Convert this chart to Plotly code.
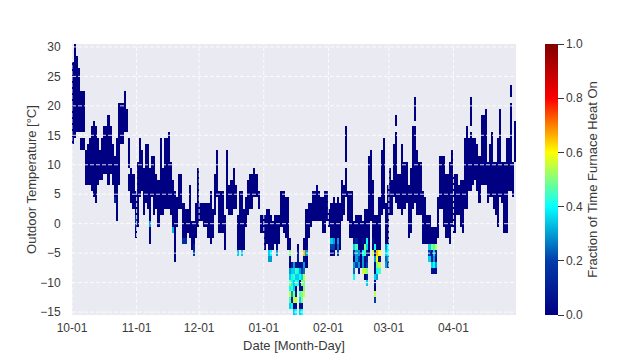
import numpy as np
import plotly.graph_objects as go

tick_days = [0, 31, 61, 92, 123, 152, 183]
tick_labels = ["10-01", "11-01", "12-01", "01-01", "02-01", "03-01", "04-01"]
temp_ticks = [-15, -10, -5, 0, 5, 10, 15, 20, 25, 30]
temps = list(range(-15, 31))

day_high = [
    27, 30, 28, 26, 22, 22, 12, 13, 14, 16, 17, 16, 14, 12, 14, 16, 16, 18, 16, 13,
    11, 14, 20, 20, 20, 22, 19, 14, 9, 8, 5, 10, 14, 12, 9, 13, 13, 9, 11, 11,
    8, 7, 14, 9, 14, 14, 15, 10, 7, 5, 4, 8, 8, 3, 2, 2, 6, 0, 0, 3,
    9, 3, 3, 3, 3, 3, 5, 2, 8, 12, 5, 5, 5, 1, 12, 6, 7, 9, 6, 1,
    5, 5, 2, 4, 7, 8, 8, 9, 8, 5, 1, 1, 1, 2, 2, 1, 0, 1, 1, 1,
    5, 5, 4, 4, -3, -7, -7, -7, -4, -7, -7, -3, 2, 3, 3, 5, 5, 6, 5, 4,
    4, 5, 5, 2, 3, 4, 3, 4, 3, 7, 6, 16, 5, 5, 5, 0, 1, 1, 1, 0,
    2, 2, 11, 12, 7, 1, 1, 4, 12, 14, 3, 6, 9, 7, 13, 18, 8, 8, 13, 10,
    10, 6, 9, 16, 21, 12, 10, 10, 5, 4, 1, 1, -1, -1, -1, 4, 11, 11, 11, 8,
    8, 10, 12, 8, 8, 6, 7, 7, 14, 16, 14, 21, 14, 14, 13, 11, 18, 18, 19, 10,
    13, 15, 10, 10, 14, 19, 10, 10, 14, 14, 23, 10, 17,
]
day_low = [
    14, 15, 16, 16, 13, 13, 7, 7, 7, 6, 5, 4, 7, 8, 8, 9, 9, 7, 9, 7,
    4, 1, 7, 14, 14, 16, 16, 6, 4, 3, -2, 0, 5, 6, 2, 4, 3, -3, 5, 2,
    3, 0, 2, 2, 3, 3, 3, 2, -1, -6, 0, 3, 3, -3, -3, -1, -2, -4, -5, -2,
    0, 1, 1, 0, 0, -2, -3, -2, 2, 5, -1, -1, -1, -4, 3, 2, 2, 3, 3, -5,
    -4, -5, -4, 0, 2, 3, 3, 5, 5, 3, -1, -1, -4, -3, -6, -6, -4, -3, -5, -3,
    0, -1, -2, -4, -14, -14, -15, -15, -10, -15, -15, -12, -7, -2, 0, 1, 1, 1, 1, 1,
    -1, -1, 1, 0, -5, -5, -4, -5, -4, 1, 2, 5, 1, -2, -2, -9, -7, -7, -7, -8,
    -9, -10, -5, 1, -5, -13, -9, -8, 2, 3, -7, -7, 2, 2, 5, 4, 3, 3, 2, 3,
    4, -2, -1, 3, 4, 2, 2, 2, -3, -3, -3, -6, -8, -8, -8, -2, 3, 3, 0, -2,
    -2, -3, 0, -1, 2, 2, 0, -1, 3, 3, 6, 6, 7, 8, 6, 4, 7, 7, 7, 4,
    5, 5, 3, 2, 0, 5, 4, -1, -1, 6, 6, 5, 11,
]

gap_days = [4, 5, 27, 131, 155, 164, 191, 210]
gap_temps = [15, 15, 9, 10, 16, 17, 16, 21]

hot_days = (
    [20, 30, 30, 37, 48, 53, 54, 58, 58, 79, 81, 94, 94, 95, 95, 98]
    + [104] * 9 + [105] * 8 + [106] * 9 + [107] * 9 + [108] * 7 + [109] * 9 + [110] * 9 + [111] * 8
    + [112, 124, 124, 124, 125, 125, 125, 127, 127, 127]
    + [135] * 7 + [136] * 5 + [137] * 4 + [139] * 5 + [140] * 5 + [141] * 8
    + [144] * 2 + [145] * 10 + [146] * 5 + [147] * 4 + [150] * 4 + [151] * 4
    + [171] * 3 + [172] * 5 + [173] * 5 + [174] * 5
)
hot_temps = (
    [4, 1, 0, 0, -1, -3, -3, -4, -5, -5, -5, -5, -6, -5, -6, -5]
    + [-5, -6, -8, -9, -10, -11, -12, -13, -14]
    + [-7, -8, -9, -10, -11, -12, -13, -14]
    + [-7, -8, -9, -10, -11, -12, -13, -14, -15]
    + [-7, -8, -9, -10, -12, -13, -14, -15, -11]
    + [-5, -6, -7, -8, -9, -10, -4]
    + [-7, -8, -9, -10, -11, -12, -13, -14, -15]
    + [-7, -8, -9, -10, -11, -12, -13, -14, -15]
    + [-5, -6, -7, -8, -9, -10, -11, -12]
    + [-5, -3, -4, -5, -3, -4, -5, -3, -4, -5]
    + [-3, -4, -5, -6, -7, -8, -9]
    + [-3, -4, -5, -6, -7]
    + [-5, -6, -7, -8]
    + [-3, -5, -6, -7, -8]
    + [-4, -5, -6, -7, -8]
    + [-3, -4, -5, -6, -7, -8, -9, -10]
    + [-3, -5]
    + [-4, -5, -6, -7, -8, -9, -10, -11, -12, -13]
    + [-5, -6, -7, -8, -9]
    + [-5, -6, -7, -8]
    + [-4, -5, -6, -7]
    + [-4, -5, -6, -7]
    + [-4, -5, -6]
    + [-4, -5, -6, -7, -8]
    + [-4, -5, -6, -7, -8]
    + [-4, -5, -6, -7, -8]
)
hot_fractions = (
    [0.15, 0.2, 0.15, 0.3, 0.32, 0.15, 0.15, 0.1, 0.2, 0.35, 0.35, 0.35, 0.3, 0.4, 0.3, 0.3]
    + [0.5, 0.05, 0.3, 0.35, 0.5, 0.4, 0.55, 0.45, 0.35]
    + [0.1, 0.35, 0.4, 0.4, 0.45, 0.3, 0.1, 0.4]
    + [0.3, 0.35, 0.45, 0.35, 0.35, 0.5, 0.55, 0.0, 0.35]
    + [0.05, 0.45, 0.35, 0.45, 0.1, 0.55, 0.05, 0.4, 0.05]
    + [0.1, 0.1, 0.05, 0.4, 0.35, 0.4, 0.0]
    + [0.05, 0.3, 0.4, 0.05, 0.05, 0.45, 0.35, 0.05, 0.35]
    + [0.05, 0.2, 0.35, 0.5, 0.05, 0.5, 0.5, 0.05, 0.4]
    + [0.65, 0.05, 0.3, 0.25, 0.55, 0.5, 0.5, 0.55]
    + [0.3, 0.35, 0.2, 0.0, 0.3, 0.2, 0.05, 0.3, 0.25, 0.2]
    + [0.05, 0.35, 0.15, 0.0, 0.3, 0.25, 0.4]
    + [0.1, 0.45, 0.3, 0.3, 0.2]
    + [0.3, 0.2, 0.3, 0.05]
    + [0.05, 0.4, 0.3, 0.3, 0.55]
    + [0.5, 0.45, 0.05, 0.05, 0.55]
    + [0.4, 0.35, 0.05, 0.1, 0.2, 0.5, 0.1, 0.35]
    + [0.05, 0.55]
    + [0.4, 0.05, 0.3, 0.05, 0.05, 0.35, 0.05, 0.0, 0.55, 0.2]
    + [0.65, 0.6, 0.5, 0.4, 0.3]
    + [0.6, 0.05, 0.55, 0.45]
    + [0.3, 0.35, 0.25, 0.3]
    + [0.4, 0.4, 0.3, 0.2]
    + [0.35, 0.2, 0.35]
    + [0.5, 0.05, 0.1, 0.35, 0.05]
    + [0.45, 0.35, 0.3, 0.4, 0.05]
    + [0.55, 0.1, 0.05, 0.3, 0.05]
)

days = np.arange(len(day_high))
z = np.full((len(temps), len(days)), np.nan)
for d in days:
    for t in range(day_low[d], day_high[d] + 1):
        z[t + 15, d] = 0.0
for d, t in zip(gap_days, gap_temps):
    z[t + 15, d] = np.nan
for d, t, f in zip(hot_days, hot_temps, hot_fractions):
    z[t + 15, d] = f

INK = "#3a3a3a"
FONT = "Liberation Sans, Arial, sans-serif"

fig = go.Figure(go.Heatmap(
    x=days + 0.5, y=temps, z=z, colorscale="Jet", zmin=0, zmax=1, hoverongaps=False,
    colorbar=dict(
        title=dict(text="Fraction of Time Furnace Heat On", side="right", font=dict(size=13, color=INK)),
        x=1.065, xanchor="left", xref="paper", y=0, yanchor="bottom", yref="paper",
        len=1, lenmode="fraction", thickness=13, thicknessmode="pixels", ypad=0, xpad=0,
        outlinewidth=0, tickmode="array", tickvals=[0, 0.2, 0.4, 0.6, 0.8, 1.0],
        ticktext=["0.0", "0.2", "0.4", "0.6", "0.8", "1.0"],
        ticks="outside", ticklen=6, tickcolor=INK, tickwidth=1,
        tickfont=dict(size=12, color=INK),
    ),
))

for v in tick_days:
    fig.add_vline(x=v, line=dict(color="white", width=1, dash="4px,2px"), opacity=0.85, layer="above")
for v in temp_ticks:
    fig.add_hline(y=v, line=dict(color="white", width=1, dash="4px,2px"), opacity=0.85, layer="above")

fig.update_layout(
    width=623, height=360, autosize=False,
    margin=dict(l=64, r=115, t=36, b=53),
    paper_bgcolor="white", plot_bgcolor="#EAEAF2",
    font=dict(family=FONT, size=12, color=INK),
    xaxis=dict(
        range=[0, len(days)], tickmode="array", tickvals=tick_days, ticktext=tick_labels,
        showgrid=False, zeroline=False, ticks="outside", ticklen=2, tickcolor="rgba(0,0,0,0)",
        tickfont=dict(size=12, color=INK),
        title=dict(text="Date [Month-Day]", standoff=6, font=dict(size=13, color=INK)),
    ),
    yaxis=dict(
        range=[-15.5, 30.5], tickmode="array", tickvals=temp_ticks,
        showgrid=False, zeroline=False, ticks="outside", ticklen=8, tickcolor="rgba(0,0,0,0)",
        tickfont=dict(size=12, color=INK),
        title=dict(text="Outdoor Temperature [°C]", standoff=0, font=dict(size=13, color=INK)),
    ),
)

fig.write_html("out.html")
